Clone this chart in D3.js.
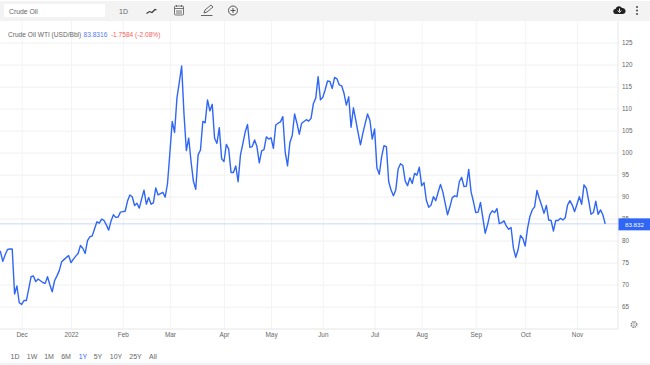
<!DOCTYPE html>
<html>
<head>
<meta charset="utf-8">
<script src="https://cdn.jsdelivr.net/npm/d3@7"></script>
<style>
  html, body { margin: 0; padding: 0; background: #fff; overflow: hidden; }
  text { font-family: "Liberation Sans", Arial, sans-serif; }
</style>
</head>
<body>
<div id="chart-container"></div>
<script>
// Daily WTI closes, one per trading day
const prices = [
  78.0, 77.5, 75.3, 76.8, 78.0, 78.1, 78.1, 67.9, 69.7, 65.9,
  65.5, 66.4, 66.4, 69.0, 71.8, 72.0, 70.7, 71.3, 70.9, 70.5,
  70.3, 71.8, 70.0, 68.4, 70.9, 72.0, 73.2, 75.2, 75.7, 76.2,
  76.6, 75.0, 75.8, 76.5, 77.1, 78.9, 78.3, 77.1, 80.0, 80.9,
  81.1, 82.7, 84.3, 84.0, 84.9, 84.6, 83.6, 82.4, 84.5, 85.9,
  85.3, 85.4, 86.5, 86.6, 86.7, 89.0, 90.4, 90.0, 88.0, 88.5,
  87.4, 89.5, 91.5, 88.3, 89.8, 88.3, 88.6, 92.0, 90.4, 90.7,
  91.0, 89.9, 93.0, 100.0, 107.1, 104.6, 112.4, 116.0, 119.7, 108.8,
  100.5, 103.3, 98.0, 93.5, 91.7, 99.5, 100.6, 107.1, 106.8, 112.0,
  109.5, 111.0, 103.3, 102.1, 105.7, 98.6, 98.0, 101.9, 100.8, 95.5,
  95.5, 97.0, 93.4, 99.5, 102.0, 104.7, 106.4, 101.2, 101.4, 102.9,
  101.4, 97.7, 100.4, 100.7, 103.6, 103.1, 103.4, 101.0, 106.3, 106.7,
  107.0, 108.2, 100.2, 97.0, 102.3, 103.9, 108.8, 106.7, 104.2, 106.7,
  107.1, 107.5, 107.2, 107.8, 111.2, 112.4, 117.3, 112.0, 112.6, 114.3,
  116.3, 116.2, 114.6, 117.1, 116.8, 115.4, 115.2, 113.5, 110.8, 112.7,
  105.8, 110.2, 107.4, 104.5, 101.8, 104.4, 106.6, 108.8, 107.4, 103.1,
  105.4, 96.5, 95.1, 99.1, 101.6, 101.4, 93.4, 91.5, 90.2, 91.5,
  96.3, 97.5, 97.1, 93.6, 92.5, 94.3, 93.0, 95.3, 94.9, 96.7,
  92.5, 93.2, 89.2, 87.6, 88.1, 90.0, 89.1, 91.0, 92.8, 91.1,
  88.5, 85.9, 87.7, 89.8, 90.2, 90.0, 93.4, 94.4, 92.3, 92.4,
  96.2, 91.1, 88.9, 86.4, 86.5, 88.7, 85.2, 81.7, 83.6, 86.0,
  86.8, 86.4, 87.3, 83.9, 84.1, 84.5, 83.3, 82.6, 83.0, 78.3,
  76.2, 78.0, 81.2, 80.5, 78.8, 82.8, 85.5, 87.0, 87.7, 91.4,
  89.6, 88.0, 86.2, 88.0, 84.7, 84.6, 82.2, 84.6, 84.6, 85.1,
  84.7, 85.2, 88.1, 89.1, 88.1, 86.6, 88.3, 90.0, 88.3, 92.7,
  91.9, 89.0, 86.0, 86.4, 89.0, 86.0, 87.0, 85.9, 83.83
];

const monthLabels = ['Dec', '2022', 'Feb', 'Mar', 'Apr', 'May', 'Jun', 'Jul', 'Aug', 'Sep', 'Oct', 'Nov'];
const monthDays = [10, 31, 53, 73, 96, 116, 138, 160, 180, 203, 224, 246];
const priceTicks = [65, 70, 75, 80, 85, 90, 95, 100, 105, 110, 115, 120, 125];
const ranges = ['1D', '1W', '1M', '6M', '1Y', '5Y', '10Y', '25Y', 'All'];

const lastPrice = 83.83;
const gray = '#666';
const blue = '#2f66f6';

const width = 650, height = 365;
const plotRight = 618, plotTop = 21, plotBottom = 329;

const svg = d3.select('#chart-container')
    .append('svg')
    .attr('width', width)
    .attr('height', height)
    .style('display', 'block');

const x = d3.scaleLinear().domain([0, prices.length - 1]).range([-1.9, 605.2]);
const y = d3.scaleLinear().domain([65, 125]).range([306.7, 42.7]);

// toolbar
svg.append('rect').attr('x', 0).attr('y', 1).attr('width', width).attr('height', 20).attr('fill', '#f3f3f3');
svg.append('rect').attr('x', 4).attr('y', 4).attr('width', 101).attr('height', 13).attr('fill', '#fff');
svg.append('text').attr('x', 9).attr('y', 14).attr('font-size', 6.8).attr('fill', gray).text('Crude Oil');
svg.append('text').attr('x', 119).attr('y', 14).attr('font-size', 7).attr('fill', gray).text('1D');

// chart-type squiggle
svg.append('path').attr('d', 'M146.5 13.500l3-2 2.500 1 3-3 1.500.5')
    .attr('fill', 'none').attr('stroke', '#333').attr('stroke-width', 1.1);
// calendar
const cal = svg.append('g').attr('fill', 'none').attr('stroke', '#555').attr('stroke-width', 0.8);
cal.append('rect').attr('x', 174.5).attr('y', 6).attr('width', 9).attr('height', 9).attr('rx', 1);
cal.append('path').attr('d', 'M174.500 8.500h9M176.500 5v2M181.500 5v2M176 11h6M176 13h6');
// pencil
svg.append('path').attr('d', 'M204 13l1-3 6-5 2 2-6 5zM201 15.500h11.500')
    .attr('fill', 'none').attr('stroke', '#555').attr('stroke-width', 0.9);
// plus in a circle
svg.append('circle').attr('cx', 233).attr('cy', 10.500).attr('r', 4.500)
    .attr('fill', 'none').attr('stroke', '#444').attr('stroke-width', 0.9);
svg.append('path').attr('d', 'M230.500 10.500h5M233 8v5').attr('stroke', '#444').attr('stroke-width', 0.9);
// download cloud
svg.append('path').attr('d', 'M616 14a2.500 2.500 0 0 1 -.5 -5a3.500 3.500 0 0 1 6.500 -1a3 3 0 0 1 1 6z').attr('fill', '#222');
svg.append('path').attr('d', 'M619.500 8.500v3M617.800 10.500l1.700 2 1.700 -2').attr('stroke', '#f3f3f3').attr('fill', 'none');
// menu dots
svg.selectAll('.dot').data([0, 1, 2]).enter().append('circle')
    .attr('cx', 637).attr('cy', d => 7 + d * 3.5).attr('r', 1.1).attr('fill', '#555');

// axes with their tick lines as grid
const xAxis = svg.append('g')
    .attr('transform', `translate(0,${plotBottom})`)
    .call(d3.axisBottom(x).tickValues(monthDays).tickFormat((d, i) => monthLabels[i]).tickSize(-(plotBottom - plotTop)));
xAxis.select('.domain').remove();
xAxis.selectAll('line').attr('stroke', '#f1f3f7');
xAxis.selectAll('text').attr('y', 6).attr('dy', '0.32em').attr('font-size', 6.4).attr('fill', gray);

const yAxis = svg.append('g')
    .attr('transform', `translate(${plotRight},0)`)
    .call(d3.axisRight(y).tickValues(priceTicks).tickSize(-plotRight));
yAxis.select('.domain').remove();
yAxis.selectAll('line').attr('stroke', '#f3f3f3').attr('stroke-width', 1.3);
yAxis.selectAll('text').attr('x', 4).attr('font-size', 6.3).attr('fill', gray);

// frame of the plot
svg.append('line').attr('x1', 0).attr('x2', plotRight).attr('y1', plotBottom).attr('y2', plotBottom).attr('stroke', '#e6e6e6');
svg.append('line').attr('x1', plotRight).attr('x2', plotRight).attr('y1', plotTop).attr('y2', plotBottom).attr('stroke', '#e6e6e6');
svg.append('line').attr('x1', 0).attr('x2', width).attr('y1', 364).attr('y2', 364).attr('stroke', '#e6e6e6');

// last price line
svg.append('line').attr('x1', 0).attr('x2', plotRight)
    .attr('y1', y(lastPrice)).attr('y2', y(lastPrice))
    .attr('stroke', '#c9d7fb').attr('stroke-width', 1);

svg.append('clipPath').attr('id', 'plot-clip').append('rect')
    .attr('x', 0).attr('y', plotTop).attr('width', plotRight).attr('height', plotBottom - plotTop);

const line = d3.line().x((d, i) => x(i)).y(d => y(d));
svg.append('path')
    .datum(prices)
    .attr('clip-path', 'url(#plot-clip)')
    .attr('fill', 'none')
    .attr('stroke', blue)
    .attr('stroke-width', 1.4)
    .attr('stroke-linejoin', 'round')
    .attr('d', line);

// last price tag
svg.append('rect').attr('x', plotRight + 0.5).attr('y', y(lastPrice) - 5.5).attr('width', width - plotRight).attr('height', 12).attr('fill', blue);
svg.append('text').attr('x', 625).attr('y', y(lastPrice) + 2.7).attr('font-size', 6.2).attr('fill', '#fff').text('83.832');

// title row
const title = svg.append('text').attr('x', 8).attr('y', 37).attr('font-size', 6.6);
title.append('tspan').attr('fill', gray).text('Crude Oil WTI (USD/Bbl)');
title.append('tspan').attr('fill', '#4f7df5').attr('dx', 2.200).text('83.8316');
title.append('tspan').attr('fill', '#f25f5c').attr('dx', 3.600).text('-1.7584 (-2.08%)');

// range buttons
const rangeX = d3.scaleOrdinal().domain(ranges).range([15, 32, 49, 66, 83, 98, 116, 135.5, 153]);
svg.selectAll('.range').data(ranges).enter().append('text')
    .attr('class', 'range')
    .attr('x', d => rangeX(d))
    .attr('y', 358.7)
    .attr('text-anchor', 'middle')
    .attr('font-size', 7)
    .attr('fill', d => d === '1Y' ? blue : gray)
    .text(d => d);

// settings gear
svg.append('circle').attr('cx', 634).attr('cy', 324.500).attr('r', 2.800)
    .attr('fill', 'none').attr('stroke', '#888').attr('stroke-width', 1.4).attr('stroke-dasharray', '1.500 0.700');
svg.append('circle').attr('cx', 634).attr('cy', 324.500).attr('r', 1.200)
    .attr('fill', 'none').attr('stroke', '#999').attr('stroke-width', 0.6);
</script>
</body>
</html>
